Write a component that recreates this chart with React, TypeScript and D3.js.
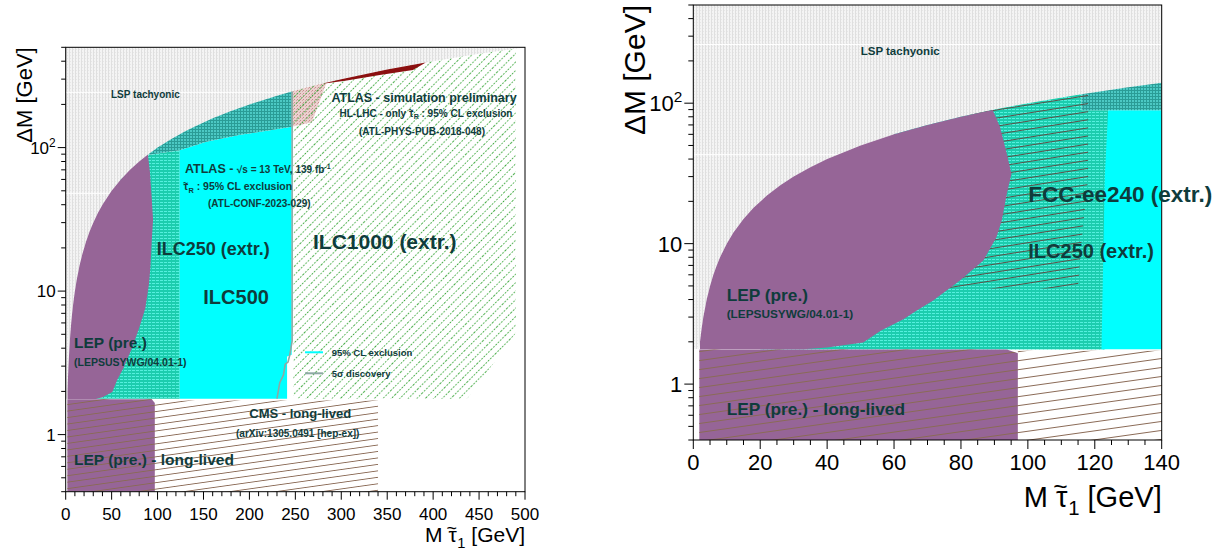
import React from "react";
import * as d3 from "d3";

type P = [number, number];

// ---------------- data (M [GeV], ΔM [GeV]) ----------------
// kinematic boundary ΔM = M (massless LSP) sampled along the curve
const DIAG: P[] = [[1.78,1.78],[2,2],[2.5,2.5],[3,3],[4,4],[5,5],[6,6],[7,7],[8,8],[10,10],[12,12],[15,15],[18,18],[22,22],[26,26],[30,30],[35,35],[40,40],[50,50],[60,60],[70,70],[80,80],[90,90],[100,100],[115,115],[130,130],[140,140],[160,160],[180,180],[200,200],[230,230],[260,260],[300,300],[350,350],[400,400],[450,450],[500,500]];

// LEP (pre.) right edge
const LEP_EDGE: P[] = [[91.7,67.5],[93.7,43.6],[95.1,31.4],[93.7,22.6],[92.2,14.6],[90.6,11.1],[86.7,7.58],[79.7,5.46],[71.7,3.93],[66.8,3.34],[62.8,2.9],[56,2.4],[50.8,1.98],[40,1.82],[32.9,1.77]];
const LEP_LL: P[] = [[1.8,0.4],[97,0.4],[97,1.66],[93.7,1.76],[1.8,1.76]];
const CMS_LL: P[] = [[97,0.4],[340,0.4],[340,1.73],[97,1.73]];

// left panel regions
const ILC250_L: P[] = [[20,1.78],[124,1.78],[124,96],[91,89],[60,60]];
const ILC500_L: P[] = [[124,1.78],[241,1.78],[241,3.5],[246,3.6],[246,140],[226,133],[190,123],[153,110],[124,96]];
const BAND_L_LOWER: P[] = [[246,140],[226,133],[190,123],[153,110],[124,96],[91,89]];
const HLLHC_L_LOWER: P[] = [[268,150],[246,140]];
const HLLHC_DISC_LOWER: P[] = [[378,348],[342,321],[306,293],[284,281]];
const ILC1000_EDGE: P[] = [[490,5.1],[437,1.78]];
const FIVE_SIGMA: P[] = [[230,1.78],[233,2.3],[237,2.6],[239,3.1],[242,3.2],[244,3.6],[246.5,4.5],[246.5,246.5]];

// right panel regions
const ILC250_R_LOW: P[] = [[20,1.76],[123,1.76],[124,89],[116,89]];
const CYAN_R: P[] = [[122,1.77],[140,1.77],[140,89],[124,89],[123,30]];
const BAND_R_LOW: P[] = [[116,89],[140,89]];
const FCC_EDGE: P[] = [[118,30],[116,10],[115,4.8],[75,4.8]];

// ticks
const LEFT_X_TICKS = [0,50,100,150,200,250,300,350,400,450,500];
const RIGHT_X_TICKS = [0,20,40,60,80,100,120,140];
const Y_TICKS = [{ v: 1, base: "1", sup: "" }, { v: 10, base: "10", sup: "" }, { v: 100, base: "10", sup: "2" }];
const GREY_GAPS_L = [243, 48];
const GREY_GAPS_R = [262, 43];

// ---------------- helpers ----------------
const diag = (m0: number, m1: number): P[] => {
  const inner = DIAG.filter((d) => d[0] > m0 && d[0] < m1);
  return [[m0, m0], ...inner, [m1, m1]];
};

const FONT = "'Liberation Sans', Arial, Helvetica, sans-serif";
const INK = "#0f3c3c";
const PURPLE = "#966597";
const CYAN = "#00ffff";

type Sc = d3.ScaleLinear<number, number>;
type SL = d3.ScaleLogarithmic<number, number>;

function poly(pts: P[], x: Sc, y: SL) {
  return (d3.line<P>().x((d) => x(d[0])).y((d) => y(d[1]))(pts) || "") + "Z";
}
function pline(pts: P[], x: Sc, y: SL) {
  return d3.line<P>().x((d) => x(d[0])).y((d) => y(d[1]))(pts) || "";
}

// τ with a tilde above, followed by a subscript and the rest
function TauSub(f: number, sub: string, rest: string) {
  const up = 0.4 * f;
  const down = 0.27 * f;
  return [
    <tspan key="t">τ</tspan>,
    <tspan key="w" dx={-0.49 * f} dy={-up} fontSize={0.85 * f}>~</tspan>,
    <tspan key="s" dx={0.02 * f} dy={up + down} fontSize={0.7 * f}>{sub}</tspan>,
    <tspan key="r" dy={-down}>{rest}</tspan>,
  ];
}

function Axes(props: {
  x: Sc; y: SL; xTicks: number[]; xMinorStep: number; tickFont: number; xBase: number;
  titleFont: number; titleBase: number; yTitleX: number; yTitleFont: number; major: number; minor: number;
}) {
  const { x, y, xTicks, xMinorStep, tickFont, xBase, titleFont, titleBase, yTitleX, yTitleFont, major, minor } = props;
  const [x0, x1] = x.range();
  const [yb, yt] = y.range();
  const [d0, d1] = x.domain();
  const minors = d3.range(d0, d1 + 1e-6, xMinorStep);
  const yt2 = y.ticks();
  return (
    <g>
      <rect x={x0} y={yt} width={x1 - x0} height={yb - yt} fill="none" stroke="#000" strokeWidth={1} />
      {minors.map((m) => {
        const isMaj = xTicks.includes(Math.round(m * 1000) / 1000);
        return <line key={"xm" + m} x1={x(m)} x2={x(m)} y1={yb} y2={yb + (isMaj ? major : minor)} stroke="#000" strokeWidth={1} />;
      })}
      {xTicks.map((m) => (
        <text key={"xl" + m} x={x(m)} y={xBase} fontSize={tickFont} textAnchor="middle" fontFamily={FONT} fill="#000">{m}</text>
      ))}
      {yt2.map((v) => {
        const lg = Math.log10(v);
        const isMaj = Math.abs(lg - Math.round(lg)) < 1e-9;
        return <line key={"yt" + v} x1={x0} x2={x0 - (isMaj ? major : minor)} y1={y(v)} y2={y(v)} stroke="#000" strokeWidth={1} />;
      })}
      {Y_TICKS.map((t) => (
        <text key={"yl" + t.v} x={x0 - major - 2} y={y(t.v) + tickFont * 0.36} fontSize={tickFont} textAnchor="end" fontFamily={FONT} fill="#000">
          {t.base}
          {t.sup ? <tspan dy={-tickFont * 0.4} fontSize={tickFont * 0.7}>{t.sup}</tspan> : null}
        </text>
      ))}
      <text x={x1} y={titleBase} fontSize={titleFont} textAnchor="end" fontFamily={FONT} fill="#000">
        <tspan>M </tspan>
        {TauSub(titleFont, "1", " [GeV]")}
      </text>
      <text transform={`translate(${yTitleX},${yt}) rotate(-90)`} fontSize={yTitleFont} textAnchor="end" fontFamily={FONT} fill="#000">ΔM [GeV]</text>
    </g>
  );
}

function Lbl(p: { x: number; y: number; s: number; a?: "start" | "middle" | "end"; children: React.ReactNode }) {
  return (
    <text x={p.x} y={p.y} fontSize={p.s} fontWeight="bold" textAnchor={p.a || "start"} fontFamily={FONT} fill={INK}>{p.children}</text>
  );
}

export default function App() {
  const xL = d3.scaleLinear().domain([0, 500]).range([65.7, 525]);
  const yL = d3.scaleLog().domain([0.4, 500]).range([491.7, 47.3]);
  const xR = d3.scaleLinear().domain([0, 140]).range([693.3, 1161.7]);
  const yR = d3.scaleLog().domain([0.4, 500]).range([440, 5]);

  const tachyon: P[] = [[0, 1.78], ...diag(1.78, 500), [0, 500]];
  const lep: P[] = [[2, 1.77], ...diag(2, 89.5), ...LEP_EDGE];

  const bandL: P[] = [...diag(89.5, 246), ...BAND_L_LOWER];
  const pinkL: P[] = [...diag(246, 284), ...HLLHC_L_LOWER];
  const redL: P[] = [...diag(280, 392), ...HLLHC_DISC_LOWER];
  const greenL: P[] = [[248, 1.78], ...diag(248, 490), ...ILC1000_EDGE];

  const tealR: P[] = [...ILC250_R_LOW, ...diag(60, 116).reverse()];
  const bandR: P[] = [...BAND_R_LOW, ...diag(116, 140).reverse()];
  const fccR: P[] = [...diag(78, 118), ...FCC_EDGE];

  const [lx0, lx1] = xL.range();
  const [ly0, ly1] = yL.range();
  const [rx0, rx1] = xR.range();
  const [ry0, ry1] = yR.range();

  return (
    <svg width={1230} height={552} style={{ position: "absolute", left: 0, top: 0, background: "#fff" }}>
      <defs>
        <clipPath id="clipL"><rect x={lx0} y={ly1} width={lx1 - lx0} height={ly0 - ly1} /></clipPath>
        <clipPath id="clipR"><rect x={rx0} y={ry1} width={rx1 - rx0} height={ry0 - ry1} /></clipPath>
        <clipPath id="tachL"><path d={poly(tachyon, xL, yL)} /></clipPath>
        <clipPath id="tachR"><path d={poly(tachyon, xR, yR)} /></clipPath>
        <pattern id="grey" width={3} height={3} patternUnits="userSpaceOnUse">
          <rect width={3} height={3} fill="#f4f4f4" />
          <rect x={0} y={0} width={1} height={3} fill="#dfdfdf" />
          <rect x={1} y={1} width={1} height={1} fill="#e7e7e7" />
        </pattern>
        <pattern id="teal" width={4} height={3} patternUnits="userSpaceOnUse">
          <rect width={4} height={3} fill="#1ccdae" />
          <rect x={0} y={1} width={3} height={1} fill="#55f0de" />
        </pattern>
        <pattern id="band" width={3} height={3} patternUnits="userSpaceOnUse">
          <rect width={3} height={3} fill="#4cc9c4" />
          <rect x={0} y={0} width={3} height={1} fill="#2a9c96" />
          <rect x={0} y={0} width={1} height={3} fill="#2a9c96" />
        </pattern>
        <pattern id="pink" width={3} height={3} patternUnits="userSpaceOnUse">
          <rect width={3} height={3} fill="#ebd0cf" />
          <rect x={0} y={0} width={1} height={1} fill="#c48e8c" />
          <rect x={2} y={1} width={1} height={1} fill="#d7aaa8" />
        </pattern>
        <pattern id="green" width={20} height={6} patternUnits="userSpaceOnUse" patternTransform="rotate(-45)">
          <line x1={0} y1={0.5} x2={20} y2={0.5} stroke="#3da83d" strokeWidth={1} strokeDasharray="1.6 1.6" />
        </pattern>
        <pattern id="hatchL" width={40} height={6.4} patternUnits="userSpaceOnUse" patternTransform="rotate(-8)">
          <line x1={0} y1={0.5} x2={40} y2={0.5} stroke="#8a6a56" strokeWidth={1} />
        </pattern>
        <pattern id="hatchR" width={40} height={8.9} patternUnits="userSpaceOnUse" patternTransform="rotate(-8)">
          <line x1={0} y1={0.5} x2={40} y2={0.5} stroke="#8a6a56" strokeWidth={1} />
        </pattern>
        <pattern id="fcc" width={40} height={8} patternUnits="userSpaceOnUse" patternTransform="rotate(-9)">
          <line x1={0} y1={0.5} x2={40} y2={0.5} stroke="#5c5048" strokeWidth={1.1} />
        </pattern>
      </defs>

      {/* ---------------- LEFT PANEL ---------------- */}
      <g clipPath="url(#clipL)">
        <path d={poly(tachyon, xL, yL)} fill="url(#grey)" />
        <g clipPath="url(#tachL)">
          {GREY_GAPS_L.map((v) => (
            <line key={v} x1={lx0} x2={lx1} y1={yL(v)} y2={yL(v)} stroke="#fff" strokeWidth={1} />
          ))}
        </g>
        <path d={poly(pinkL, xL, yL)} fill="url(#pink)" />
        <path d={poly(greenL, xL, yL)} fill="url(#green)" />
        <path d={poly(redL, xL, yL)} fill="#8b1010" />
        <path d={poly(ILC250_L, xL, yL)} fill="url(#teal)" />
        <path d={poly(ILC500_L, xL, yL)} fill={CYAN} />
        <path d={poly(bandL, xL, yL)} fill="url(#band)" />
        <path d={poly(lep, xL, yL)} fill={PURPLE} />
        <path d={poly(LEP_LL, xL, yL)} fill={PURPLE} />
        <path d={poly(LEP_LL, xL, yL)} fill="url(#hatchL)" />
        <path d={poly(CMS_LL, xL, yL)} fill="url(#hatchL)" />
        <path d={pline(FIVE_SIGMA, xL, yL)} fill="none" stroke="#8ea8a4" strokeWidth={1.6} />
      </g>
      <Axes x={xL} y={yL} xTicks={LEFT_X_TICKS} xMinorStep={10} tickFont={17} xBase={520}
        titleFont={21} titleBase={542} yTitleX={32} yTitleFont={22} major={8} minor={4.5} />

      <Lbl x={111} y={98} s={10}>LSP tachyonic</Lbl>
      <Lbl x={424} y={101.5} s={12.5} a="middle">ATLAS - simulation preliminary</Lbl>
      <Lbl x={426} y={116.5} s={10} a="middle">
        {"HL-LHC - only "}{TauSub(10, "R", " : 95% CL exclusion")}
      </Lbl>
      <Lbl x={422} y={135} s={10} a="middle">(ATL-PHYS-PUB-2018-048)</Lbl>
      <Lbl x={185} y={173} s={12.5}>
        ATLAS - <tspan fontSize={10}>√s = 13 TeV, 139 fb</tspan><tspan dy={-4} fontSize={7}>-1</tspan>
      </Lbl>
      <Lbl x={183} y={190} s={10.5}>
        {TauSub(10.5, "R", " : 95% CL exclusion")}
      </Lbl>
      <Lbl x={208} y={206.5} s={10}>(ATL-CONF-2023-029)</Lbl>
      <Lbl x={156.7} y={255} s={18}>ILC250 (extr.)</Lbl>
      <Lbl x={203.3} y={304} s={20}>ILC500</Lbl>
      <Lbl x={313} y={249} s={21}>ILC1000 (extr.)</Lbl>
      <Lbl x={74} y={348} s={15.5}>LEP (pre.)</Lbl>
      <Lbl x={74} y={366} s={10.5}>(LEPSUSYWG/04.01-1)</Lbl>
      <Lbl x={249.3} y={418} s={13}>CMS - long-lived</Lbl>
      <Lbl x={236} y={437} s={10}>(arXiv:1305.0491 [hep-ex])</Lbl>
      <Lbl x={74} y={465} s={15.5}>LEP (pre.) - long-lived</Lbl>
      <line x1={305} x2={323} y1={352.3} y2={352.3} stroke={CYAN} strokeWidth={2} />
      <Lbl x={331.7} y={355.5} s={9.5}>95% CL exclusion</Lbl>
      <line x1={305} x2={323} y1={373.3} y2={373.3} stroke="#8ea8a4" strokeWidth={2} />
      <Lbl x={331.7} y={377} s={9.5}>5σ discovery</Lbl>

      {/* ---------------- RIGHT PANEL ---------------- */}
      <g clipPath="url(#clipR)">
        <path d={poly(tachyon, xR, yR)} fill="url(#grey)" />
        <g clipPath="url(#tachR)">
          {GREY_GAPS_R.map((v) => (
            <line key={v} x1={rx0} x2={rx1} y1={yR(v)} y2={yR(v)} stroke="#fff" strokeWidth={1} />
          ))}
        </g>
        <path d={poly(tealR, xR, yR)} fill="url(#teal)" />
        <path d={poly(CYAN_R, xR, yR)} fill={CYAN} />
        <path d={poly(bandR, xR, yR)} fill="url(#band)" />
        <path d={poly(fccR, xR, yR)} fill="url(#fcc)" />
        <path d={poly(lep, xR, yR)} fill={PURPLE} />
        <path d={poly(LEP_LL, xR, yR)} fill={PURPLE} />
        <path d={poly(LEP_LL, xR, yR)} fill="url(#hatchR)" />
        <path d={poly(CMS_LL, xR, yR)} fill="url(#hatchR)" />
      </g>
      <Axes x={xR} y={yR} xTicks={RIGHT_X_TICKS} xMinorStep={5} tickFont={22} xBase={470}
        titleFont={29} titleBase={507} yTitleX={645} yTitleFont={30} major={9} minor={5} />

      <Lbl x={860.7} y={55} s={11.5}>LSP tachyonic</Lbl>
      <Lbl x={1028.3} y={201.7} s={22.5}>FCC-ee240 (extr.)</Lbl>
      <Lbl x={1028.3} y={258.3} s={20}>ILC250 (extr.)</Lbl>
      <Lbl x={726.7} y={300.7} s={17.3}>LEP (pre.)</Lbl>
      <Lbl x={726.7} y={317.7} s={11.8}>(LEPSUSYWG/04.01-1)</Lbl>
      <Lbl x={726.7} y={415} s={17.3}>LEP (pre.) - long-lived</Lbl>
    </svg>
  );
}
